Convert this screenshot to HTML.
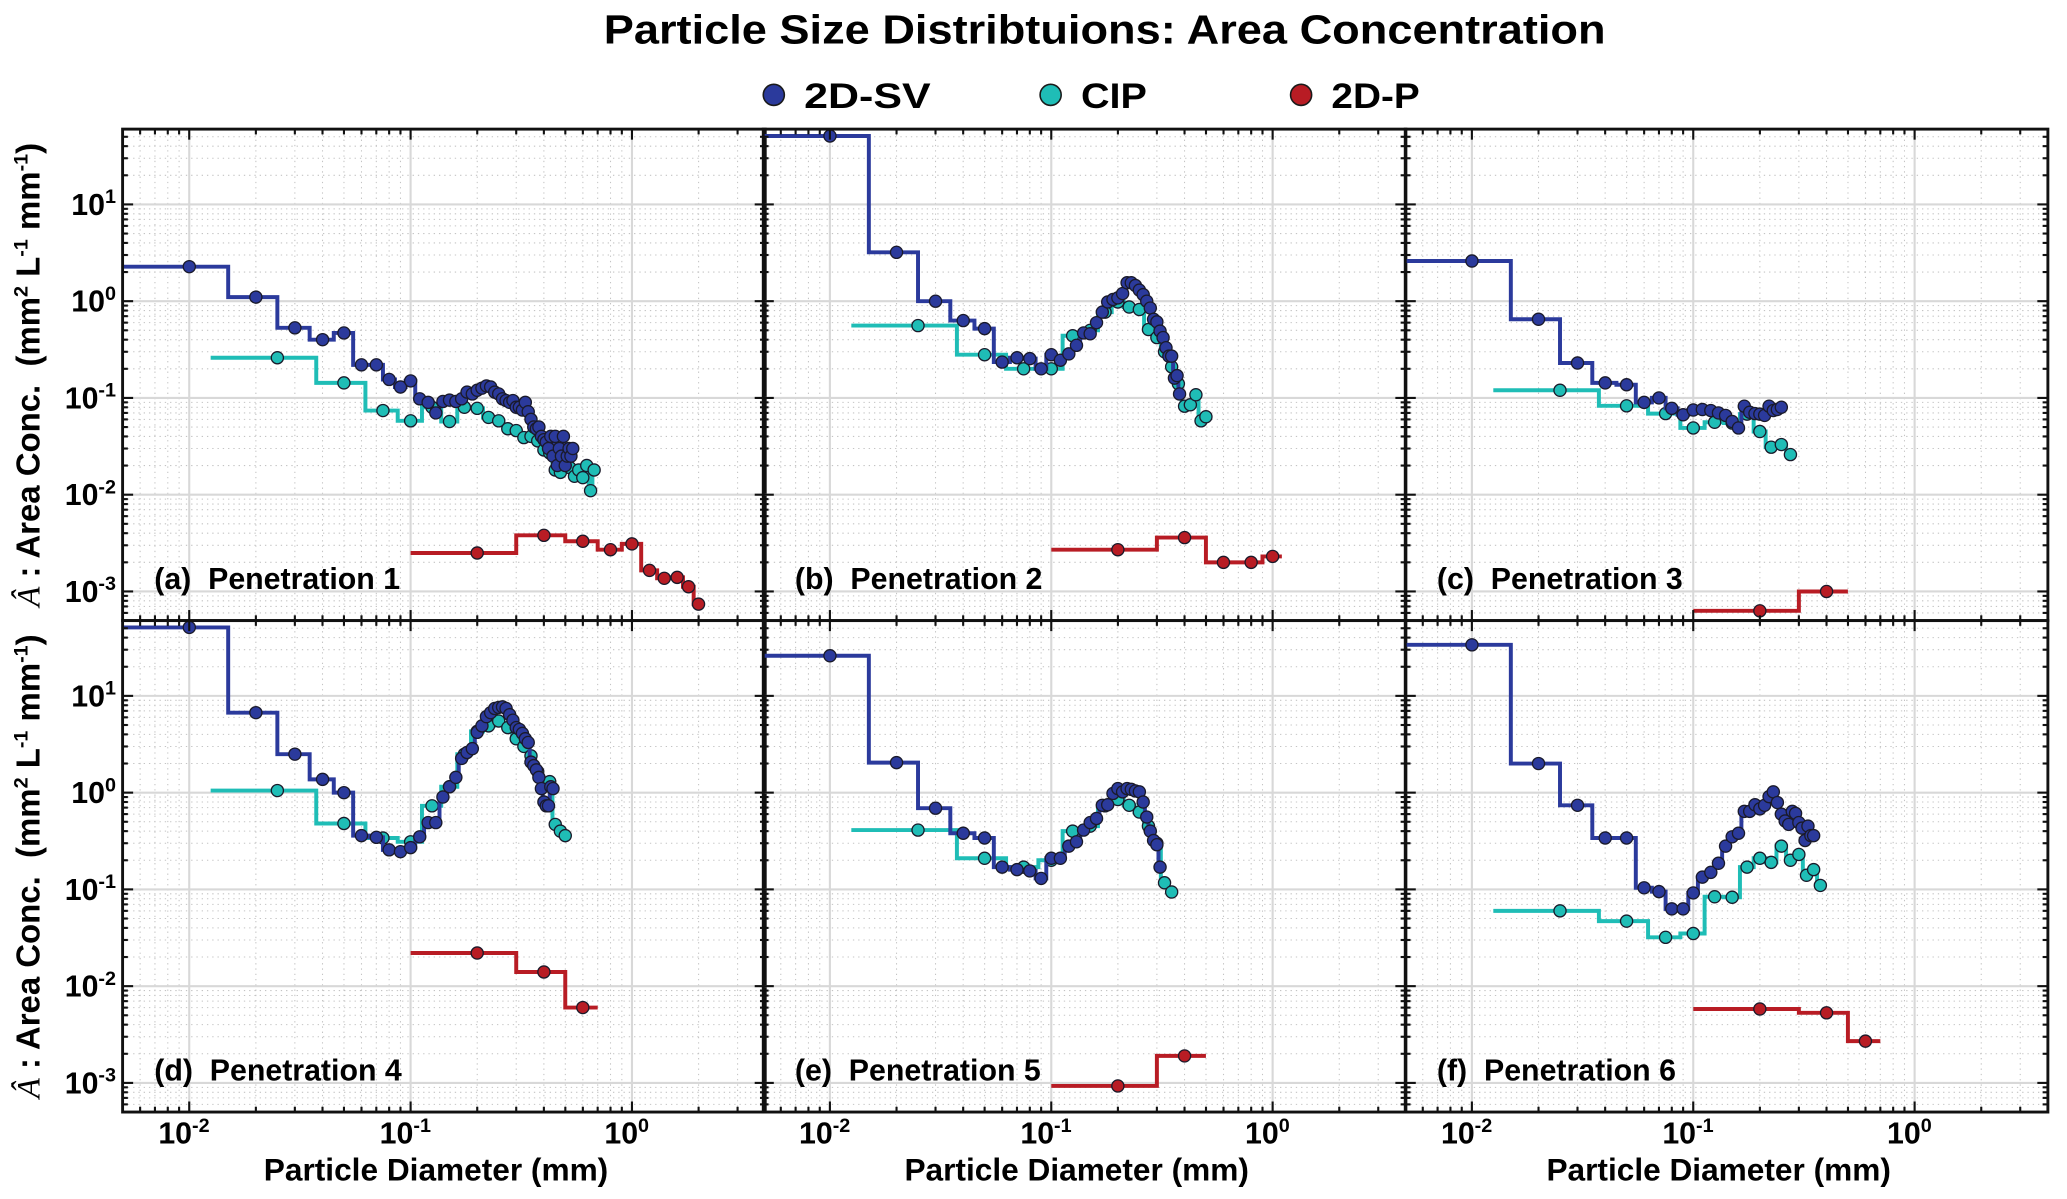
<!DOCTYPE html>
<html><head><meta charset="utf-8"><style>
html,body{margin:0;padding:0;background:#fff;}
svg{display:block;font-family:"Liberation Sans Narrow","Liberation Sans",sans-serif;font-weight:bold;}
</style></head><body>
<svg id="chart" xmlns="http://www.w3.org/2000/svg" width="2067" height="1199" viewBox="0 0 1568 910" preserveAspectRatio="none">
<text x="838" y="33" text-anchor="middle" font-size="31" textLength="760" lengthAdjust="spacingAndGlyphs">Particle Size Distribtuions: Area Concentration</text>
<g>
<g><circle cx="587" cy="72" r="8" fill="#2b3a9c" stroke="#1a1a1a" stroke-width="1.2"/><text x="610" y="82" font-size="27" textLength="96" lengthAdjust="spacingAndGlyphs">2D-SV</text></g>
<g><circle cx="797" cy="72" r="8" fill="#1fbdb6" stroke="#1a1a1a" stroke-width="1.2"/><text x="820" y="82" font-size="27" textLength="50" lengthAdjust="spacingAndGlyphs">CIP</text></g>
<g><circle cx="987" cy="72" r="8" fill="#b81c24" stroke="#1a1a1a" stroke-width="1.2"/><text x="1010" y="82" font-size="27" textLength="67" lengthAdjust="spacingAndGlyphs">2D-P</text></g>
</g>
<g id="plots"></g>
</svg>
<script>
const SV_X=[0.01,0.02,0.03,0.04,0.05,0.06,0.07,0.08,0.09,0.10,0.11,0.12,0.13,0.14,0.15,0.16,0.17,0.18,0.19,0.20,0.21,0.22,0.23,0.24,0.25,0.26,0.27,0.28,0.29,0.30,0.31,0.32,0.33,0.34,0.35,0.36,0.37,0.38,0.39,0.40,0.41,0.42,0.43,0.44,0.45,0.46,0.47,0.48,0.49,0.50,0.51,0.52,0.53,0.54,0.55];
const CIP_X=[0.025,0.05,0.075,0.1,0.125,0.15,0.175,0.2,0.225,0.25,0.275,0.3,0.325,0.35,0.375,0.4,0.425,0.45,0.475,0.5,0.525,0.55,0.575,0.6,0.625,0.65,0.675];
const P_X=[0.2,0.4,0.6,0.8,1.0,1.2,1.4,1.6,1.8,2.0];

const A_SV=[2.27,1.1,0.53,0.40,0.47,0.22,0.22,0.155,0.13,0.15,0.098,0.09,0.07,0.092,0.095,0.092,0.098,0.115,0.11,0.12,0.126,0.133,0.13,0.115,0.11,0.098,0.094,0.09,0.094,0.08,0.08,0.075,0.09,0.072,0.06,0.05,0.048,0.05,0.04,0.037,0.035,0.03,0.04,0.025,0.04,0.02,0.03,0.025,0.04,0.02,0.025,0.03,0.025,0.03];
const A_CIP=[0.26,0.143,0.074,0.058,0.08,0.057,0.08,0.078,0.063,0.058,0.048,0.046,0.039,0.04,0.036,0.029,0.027,0.018,0.017,0.021,0.019,0.0155,0.018,0.015,0.02,0.011,0.018];
const A_P=[0.0025,0.0038,0.0033,0.0027,0.0031,0.00165,0.00137,0.0014,0.00112,0.00074];

const B_SV=[51,3.2,1.0,0.63,0.52,0.235,0.26,0.255,0.2,0.28,0.245,0.285,0.35,0.47,0.46,0.6,0.77,0.98,1.04,1.08,1.2,1.55,1.55,1.45,1.3,1.17,1.0,0.85,0.65,0.61,0.49,0.42,0.33,0.27,0.27,0.16,0.17,0.11];
const B_CIP=[0.56,0.28,0.2,0.2,0.44,0.5,0.77,0.98,0.87,0.82,0.51,0.42,0.3,0.21,0.14,0.082,0.085,0.108,0.058,0.064];
const B_P=[0.0027,0.0036,0.002,0.002,0.0023];

const C_SV=[2.6,0.65,0.23,0.143,0.137,0.09,0.1,0.078,0.067,0.075,0.076,0.074,0.07,0.066,0.057,0.049,0.082,0.071,0.069,0.068,0.066,0.082,0.074,0.076,0.08];
const C_CIP=[0.12,0.083,0.069,0.049,0.056,0.055,0.068,0.045,0.031,0.033,0.026];
const C_P=[0.00063,0.001];

const D_SV=[51,6.7,2.5,1.37,1.0,0.36,0.345,0.256,0.245,0.27,0.35,0.49,0.49,0.9,1.15,1.44,2.26,2.6,2.85,4.2,4.9,6.1,6.7,7.4,7.6,7.7,7.4,6.4,5.6,4.7,4.5,4.1,3.6,3.3,2.07,1.9,1.72,1.44,1.1,0.8,0.73,0.73,1.15,1.1];
const D_CIP=[1.05,0.48,0.34,0.31,0.73,1.15,2.5,4.3,4.9,5.5,4.7,3.6,3.0,2.4,1.65,1.25,1.3,0.47,0.4,0.36];
const D_P=[0.022,0.014,0.006];

const E_SV=[26,2.04,0.69,0.38,0.34,0.17,0.16,0.155,0.13,0.21,0.21,0.28,0.31,0.41,0.49,0.54,0.74,0.75,0.98,1.1,1.02,1.1,1.08,1.04,1.02,0.8,0.56,0.4,0.32,0.29,0.17];
const E_CIP=[0.41,0.21,0.17,0.2,0.4,0.45,0.73,0.85,0.74,0.63,0.45,0.3,0.117,0.094];
const E_P=[0.00093,0.0019];

const F_SV=[33.7,2.0,0.74,0.34,0.34,0.104,0.095,0.063,0.063,0.092,0.134,0.15,0.186,0.28,0.35,0.38,0.64,0.64,0.75,0.68,0.74,0.91,1.02,0.79,0.6,0.51,0.47,0.64,0.61,0.49,0.43,0.32,0.45,0.36,0.36];
const F_CIP=[0.06,0.047,0.032,0.035,0.084,0.083,0.17,0.21,0.19,0.28,0.2,0.23,0.14,0.16,0.11];
const F_P=[0.0058,0.0053,0.0027];

const X_TICK_LABELS=["-2","-1","0"];
const X_TICKS=[0.01,0.1,1];
const Y_TICK_LABELS=["1","0","-1","-2","-3"];
const Y_TICKS=[10,1,0.1,0.01,0.001];

const panels=[
 {id:'a',name:'Penetration 1',sv:A_SV,cip:A_CIP,p:A_P,col:0,row:0},
 {id:'b',name:'Penetration 2',sv:B_SV,cip:B_CIP,p:B_P,col:1,row:0},
 {id:'c',name:'Penetration 3',sv:C_SV,cip:C_CIP,p:C_P,col:2,row:0},
 {id:'d',name:'Penetration 4',sv:D_SV,cip:D_CIP,p:D_P,col:0,row:1},
 {id:'e',name:'Penetration 5',sv:E_SV,cip:E_CIP,p:E_P,col:1,row:1},
 {id:'f',name:'Penetration 6',sv:F_SV,cip:F_CIP,p:F_P,col:2,row:1}
];
const NS='http://www.w3.org/2000/svg';
const root=document.getElementById('plots');
const COLX=[93,579,1066], PW=487.5, ROWY=[98,471], PH=373;
const XMIN=0.005,XMAX=4,YMIN=5e-4,YMAX=60;
function mk(tag,attrs,parent){const e=document.createElementNS(NS,tag);for(const k in attrs)e.setAttribute(k,attrs[k]);(parent||root).appendChild(e);return e;}
const defs=mk('defs',{});

panels.forEach((pn,idx)=>{
 const x0=COLX[pn.col],y0=ROWY[pn.row];
 const px=v=>x0+(Math.log10(v)-Math.log10(XMIN))*PW/Math.log10(XMAX/XMIN);
 const py=v=>y0+(Math.log10(YMAX)-Math.log10(v))*PH/Math.log10(YMAX/YMIN);
 const g=mk('g',{});
 
 
 const cp=mk('clipPath',{id:'clip'+idx},defs);
 mk('rect',{x:x0,y:y0,width:PW,height:PH},cp);
 const grid=mk('g',{'clip-path':'url(#clip'+idx+')'},g);
 
 
 for(let e=-3;e<=1;e++){for(let m=1;m<10;m++){const v=m*Math.pow(10,e);if(v<XMIN||v>XMAX)continue;
   const X=px(v); if(m===1) mk('line',{x1:X,x2:X,y1:y0,y2:y0+PH,stroke:'#d8d8d8','stroke-width':1.6},grid);
   else mk('line',{x1:X,x2:X,y1:y0,y2:y0+PH,stroke:'#c4c4c4','stroke-width':0.8,'stroke-dasharray':'1 3'},grid);}}
 for(let e=-4;e<=1;e++){for(let m=1;m<10;m++){const v=m*Math.pow(10,e);if(v<YMIN||v>YMAX)continue;
   const Y=py(v); if(m===1) mk('line',{x1:x0,x2:x0+PW,y1:Y,y2:Y,stroke:'#d8d8d8','stroke-width':1.6},grid);
   else mk('line',{x1:x0,x2:x0+PW,y1:Y,y2:Y,stroke:'#c4c4c4','stroke-width':0.8,'stroke-dasharray':'1 3'},grid);}}
 const ser=[[pn.p,P_X,'#b81c24','2d-p'],[pn.cip,CIP_X,'#1fbdb6','cip'],[pn.sv,SV_X,'#2b3a9c','2d-sv']];
 const sg=mk('g',{'clip-path':'url(#clip'+idx+')'},g);
 ser.forEach(([ys,xsAll,col,nm])=>{
  const xs=xsAll.slice(0,ys.length);
  const edges=[];
  edges.push(xs[0]-(xs.length>1?(xs[1]-xs[0])/2:xs[0]/2));
  for(let i=0;i<xs.length-1;i++)edges.push((xs[i]+xs[i+1])/2);
  const n=xs.length;edges.push(xs[n-1]+(n>1?(xs[n-1]-xs[n-2])/2:xs[0]/2));
  let d='M'+px(edges[0]).toFixed(1)+','+py(ys[0]).toFixed(1);
  for(let i=0;i<n;i++){ if(i>0)d+=' V'+py(ys[i]).toFixed(1); d+=' H'+px(edges[i+1]).toFixed(1);}
  const line=mk('path',{d:d,fill:'none',stroke:col,'stroke-width':3},sg);
  
  
  for(let i=0;i<n;i++){
   const c=mk('circle',{cx:px(xs[i]).toFixed(1),cy:py(ys[i]).toFixed(1),r:4.6,fill:col,stroke:'#1a1a2a','stroke-width':1},sg);
   
   
  }
 });
 const tg=mk('g',{stroke:'#111','stroke-width':1.6},g);
 
 
 for(let e=-3;e<=1;e++){for(let m=1;m<10;m++){const v=m*Math.pow(10,e);if(v<XMIN||v>XMAX)continue;
  const X=px(v),L=m===1?8:4; mk('line',{x1:X,x2:X,y1:y0,y2:y0+L},tg); mk('line',{x1:X,x2:X,y1:y0+PH,y2:y0+PH-L},tg);}}
 for(let e=-4;e<=1;e++){for(let m=1;m<10;m++){const v=m*Math.pow(10,e);if(v<YMIN||v>YMAX)continue;
  const Y=py(v),L=m===1?8:4; mk('line',{x1:x0,x2:x0+L,y1:Y,y2:Y},tg); mk('line',{x1:x0+PW,x2:x0+PW-L,y1:Y,y2:Y},tg);}}
 const fr=mk('rect',{x:x0,y:y0,width:PW,height:PH,fill:'none',stroke:'#111','stroke-width':2.2},g);
 
 
 const lab=mk('text',{x:x0+24,y:y0+349,'font-size':23},g);
 
 
 lab.textContent='('+pn.id+')  '+pn.name;
 lab.setAttribute('xml:space','preserve');
 lab.style.whiteSpace='pre';
 if(pn.col===0){
  Y_TICKS.forEach((v,i)=>{
   const t=mk('text',{x:x0-5,y:py(v)+8,'text-anchor':'end','font-size':23},g);
   
   
   const a=mk('tspan',{},t);a.textContent='10';
   const b=mk('tspan',{dy:-9,'font-size':15},t);b.textContent=Y_TICK_LABELS[i];
  });
  const yt=mk('text',{transform:'translate(30,'+(y0+PH/2)+') rotate(-90)','text-anchor':'middle','font-size':25},g);
  
  
  const s1=mk('tspan',{'font-style':'italic','font-weight':'normal','font-family':'Liberation Serif, serif'},yt);s1.textContent='Â';
  const s2=mk('tspan',{},yt);s2.textContent=' : Area Conc.  (mm';
  const s3=mk('tspan',{dy:-9,'font-size':15},yt);s3.textContent='2';
  const s4=mk('tspan',{dy:9},yt);s4.textContent=' L';
  const s5=mk('tspan',{dy:-9,'font-size':15},yt);s5.textContent='-1';
  const s6=mk('tspan',{dy:9},yt);s6.textContent=' mm';
  const s7=mk('tspan',{dy:-9,'font-size':15},yt);s7.textContent='-1';
  const s8=mk('tspan',{dy:9},yt);s8.textContent=')';
  yt.style.whiteSpace='pre';
 }
 if(pn.row===1){
  X_TICKS.forEach((v,i)=>{
   const t=mk('text',{x:px(v)-4,y:y0+PH+24,'text-anchor':'middle','font-size':23},g);
   
   
   const a=mk('tspan',{},t);a.textContent='10';
   const b=mk('tspan',{dy:-9,'font-size':15},t);b.textContent=X_TICK_LABELS[i];
  });
  const xt=mk('text',{x:x0+PW/2-6,y:y0+PH+52,'text-anchor':'middle','font-size':24},g);
  
  
  xt.textContent='Particle Diameter (mm)';
 }
});
</script>
</body></html>
